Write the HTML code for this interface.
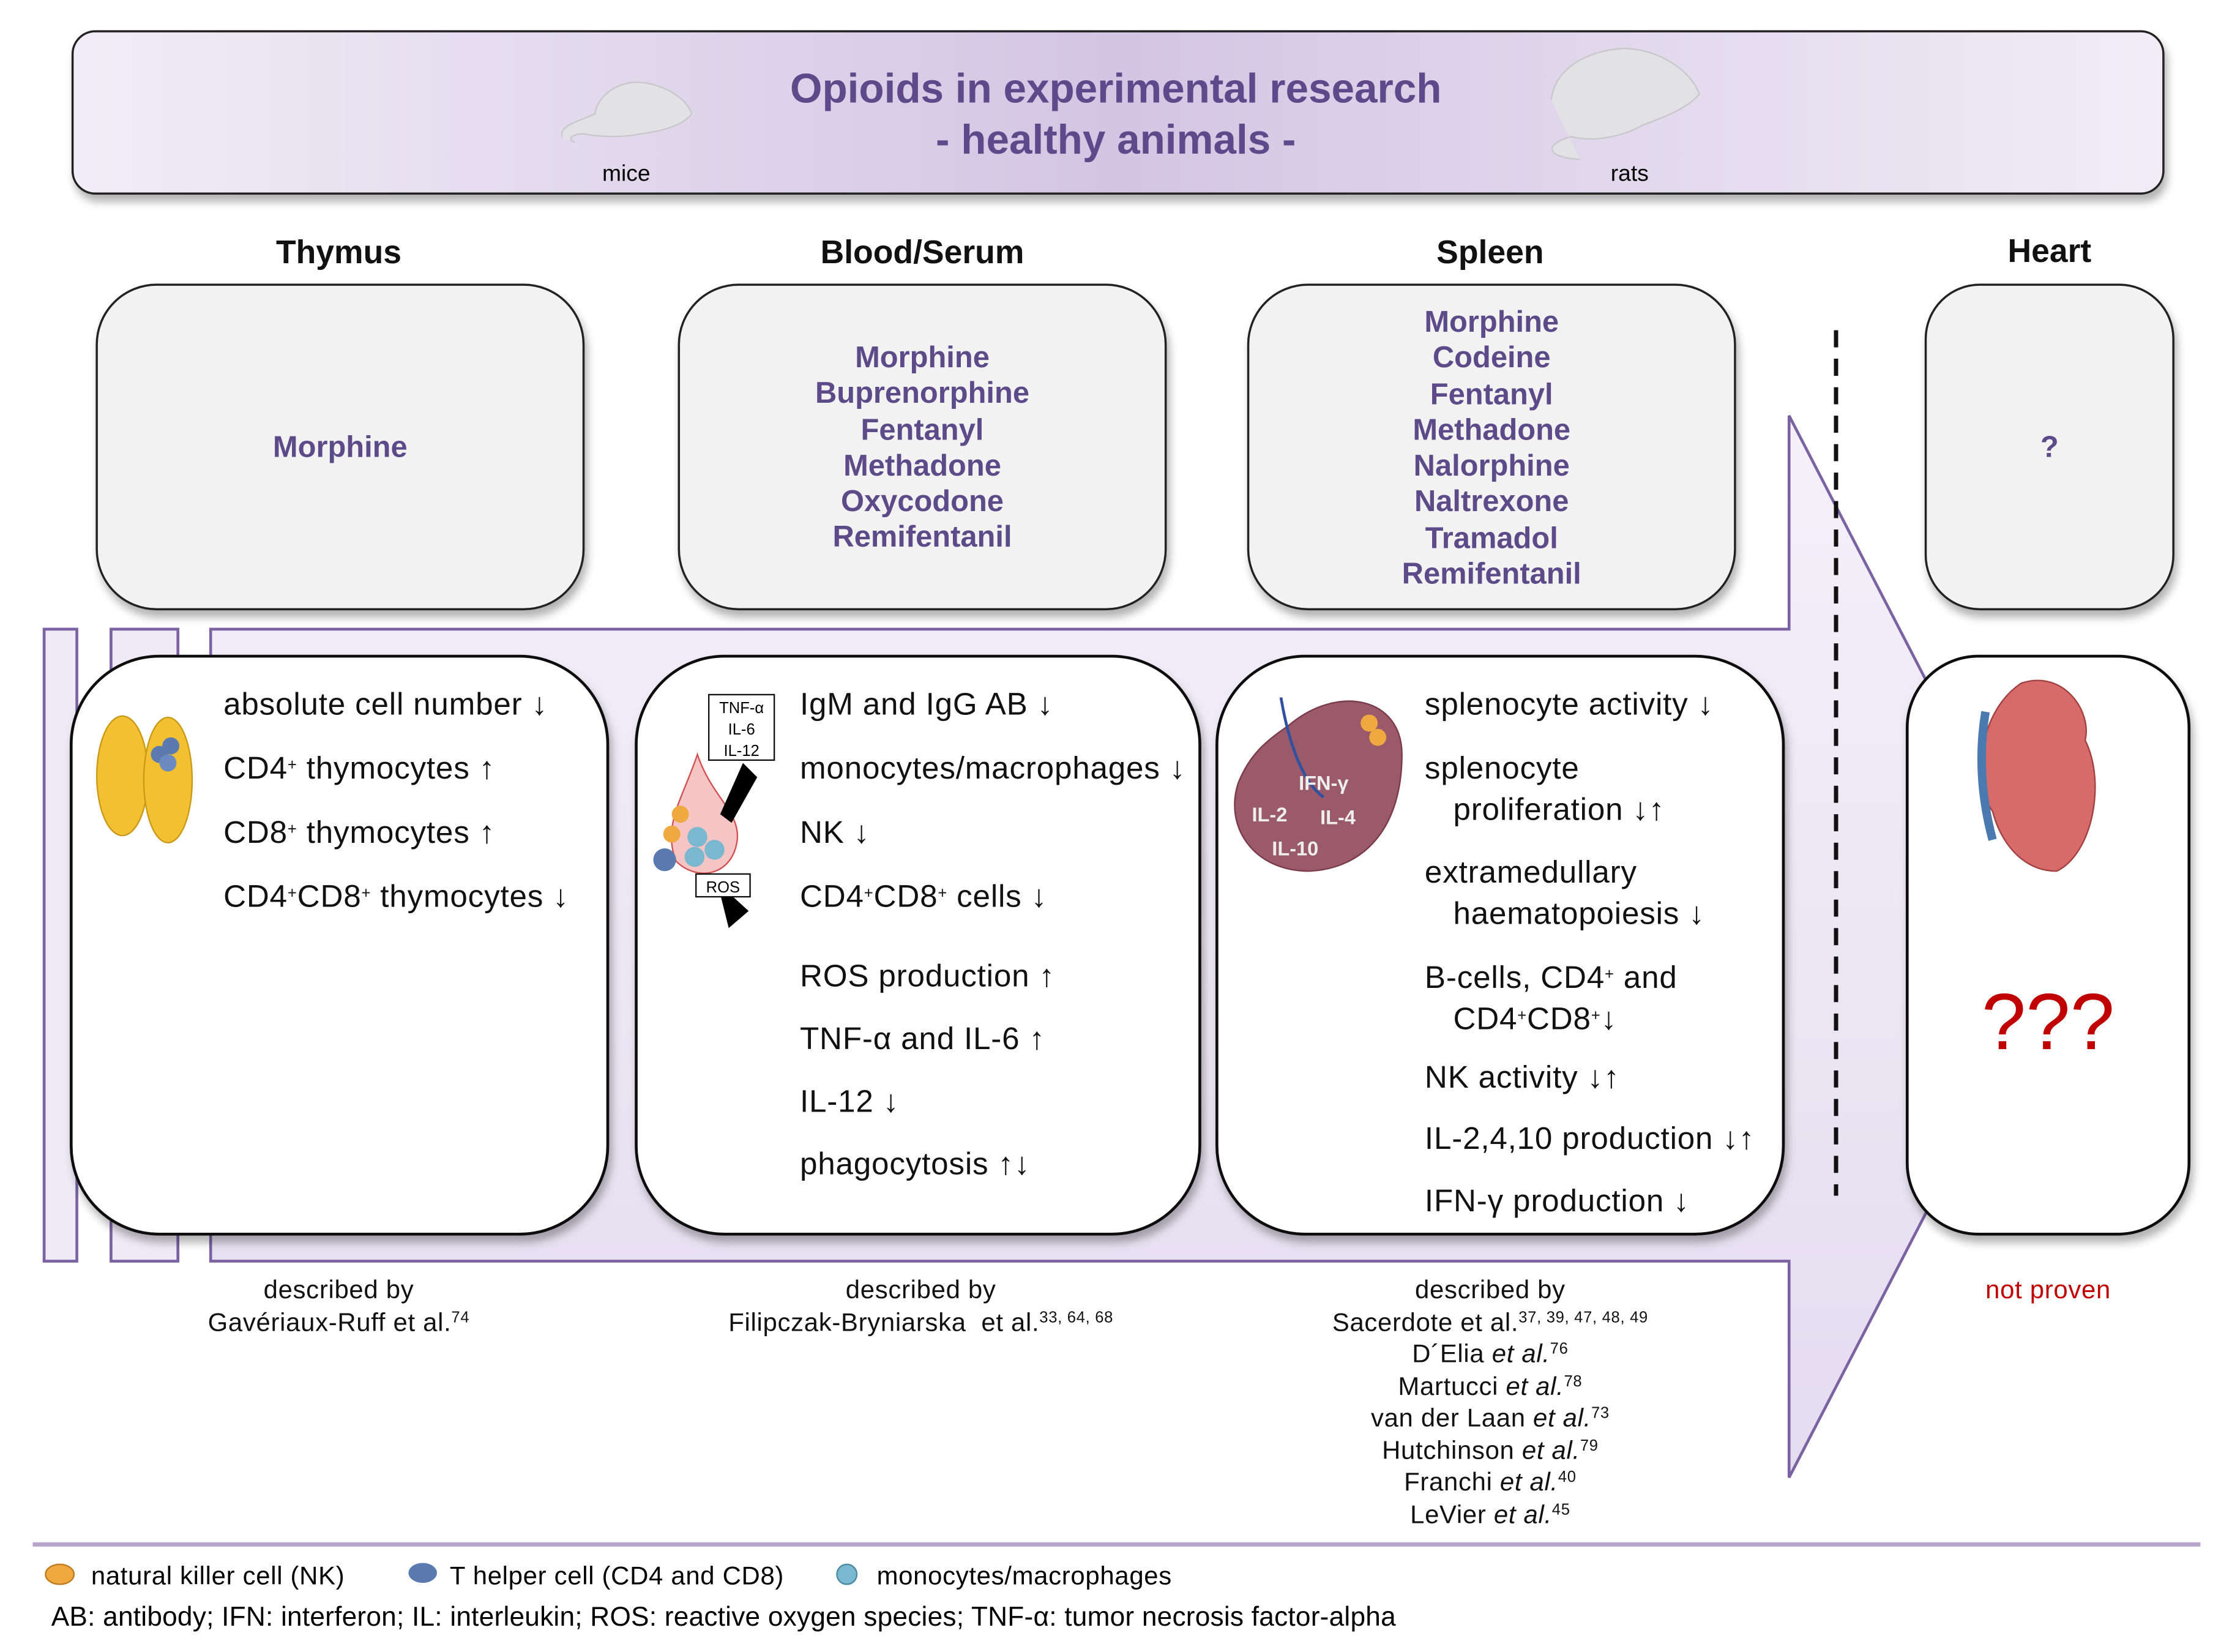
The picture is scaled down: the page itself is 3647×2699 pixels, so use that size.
<!DOCTYPE html>
<html><head><meta charset="utf-8">
<style>
html,body{margin:0;padding:0;background:#fff;}
#wrap{width:3647px;height:2699px;overflow:hidden;position:relative;}
#c{position:absolute;left:0;top:0;width:1570px;height:1162px;transform:scale(2.3256);transform-origin:0 0;font-family:"Liberation Sans",sans-serif;}
.t{position:absolute;white-space:nowrap;line-height:24px;}
.e{font-size:22px;letter-spacing:0.35px;color:#111;}
.h{font-size:23px;font-weight:bold;color:#111;text-align:center;width:300px;}
.d{font-size:21px;font-weight:bold;color:#5d4a89;text-align:center;line-height:25.3px;}
.r{font-size:18px;letter-spacing:0.3px;color:#111;text-align:center;line-height:22.5px;}
sup{font-size:11px;vertical-align:6px;line-height:0;}
i{font-style:italic;}
</style></head><body><div id="wrap"><div id="c">
<svg width="1570" height="1162" style="position:absolute;left:0;top:0">
<defs>
<linearGradient id="hg" x1="0" x2="1" y1="0" y2="0">
<stop offset="0" stop-color="#f1edf7"/><stop offset="0.5" stop-color="#d3c5e3"/><stop offset="1" stop-color="#f1edf7"/></linearGradient>
<linearGradient id="ag" x1="0" x2="0" y1="0" y2="1">
<stop offset="0" stop-color="#f4f1fa"/><stop offset="1" stop-color="#e4dcef"/></linearGradient>
<filter id="sh" x="-10%" y="-10%" width="120%" height="130%"><feDropShadow dx="2" dy="5" stdDeviation="3" flood-color="#000" flood-opacity="0.3"/></filter>
</defs>
<rect x="51" y="22" width="1469" height="114" rx="16" fill="url(#hg)" stroke="#222" stroke-width="1.5" filter="url(#sh)"/>
<path d="M395,96 C392,88 410,84 418,80 C420,66 436,56 452,58 C466,60 482,68 486,80 C480,88 466,92 450,94 C436,97 420,96 410,94 C402,94 398,98 404,100" fill="#e2e2e4" stroke="#c8c8cc"/>
<path d="M1090,70 C1092,50 1112,36 1140,34 C1166,34 1188,50 1194,66 C1186,76 1170,82 1154,88 C1140,96 1120,100 1104,96 C1088,100 1082,110 1110,112" fill="#e2e2e4" stroke="#c8c8cc"/>
<path d="M148,442 L1257,442 L1257,292 L1450,665 L1257,1038 L1257,886 L148,886 Z" fill="url(#ag)" stroke="#7a62a3" stroke-width="2"/>
<rect x="31" y="442" width="23" height="444" fill="#efebf6" stroke="#7a62a3" stroke-width="2"/>
<rect x="78" y="442" width="47" height="444" fill="#efebf6" stroke="#7a62a3" stroke-width="2"/>
<g fill="#f2f2f2" stroke="#222" stroke-width="1.5" filter="url(#sh)">
<rect x="68" y="200" width="342" height="228" rx="42"/>
<rect x="477" y="200" width="342" height="228" rx="42"/>
<rect x="877" y="200" width="342" height="228" rx="42"/>
<rect x="1353" y="200" width="174" height="228" rx="38"/>
</g>
<line x1="1290" y1="232" x2="1290" y2="840" stroke="#111" stroke-width="3" stroke-dasharray="12,8"/>
<g fill="#fff" stroke="#111" stroke-width="2" filter="url(#sh)">
<rect x="50" y="461" width="377" height="406" rx="62"/>
<rect x="447" y="461" width="396" height="406" rx="62"/>
<rect x="855" y="461" width="398" height="406" rx="62"/>
<rect x="1340" y="461" width="198" height="406" rx="50"/>
</g>
<ellipse cx="86" cy="545" rx="18" ry="42" fill="#f2c031" stroke="#c89a18"/>
<ellipse cx="118" cy="548" rx="17" ry="44" fill="#f2c031" stroke="#c89a18"/>
<circle cx="112" cy="530" r="6" fill="#5a7ab0"/><circle cx="120" cy="524" r="6" fill="#5a7ab0"/><circle cx="118" cy="536" r="6" fill="#6a8ac0"/>
<path d="M490,530 C480,560 465,580 475,605 C490,620 515,615 518,590 C520,570 500,560 490,530 Z" fill="#f5c4c4" stroke="#d05050"/>
<rect x="498" y="488" width="46" height="46" fill="#fff" stroke="#111"/>
<text x="521" y="501" font-size="11" text-anchor="middle" font-family="Liberation Sans">TNF-α</text>
<text x="521" y="516" font-size="11" text-anchor="middle" font-family="Liberation Sans">IL-6</text>
<text x="521" y="531" font-size="11" text-anchor="middle" font-family="Liberation Sans">IL-12</text>
<path d="M522,536 L532,546 L514,578 L506,572 Z" fill="#000"/>
<path d="M504,620 L526,640 L512,652 Z" fill="#000"/>
<rect x="489" y="614" width="38" height="16" fill="#fff" stroke="#111"/>
<text x="508" y="627" font-size="11" text-anchor="middle" font-family="Liberation Sans">ROS</text>
<circle cx="478" cy="572" r="6" fill="#f0a840"/><circle cx="472" cy="586" r="6" fill="#f0a840"/>
<circle cx="490" cy="588" r="7" fill="#7ab8d0"/><circle cx="502" cy="597" r="7" fill="#7ab8d0"/><circle cx="488" cy="602" r="7" fill="#7ab8d0"/>
<circle cx="467" cy="604" r="8" fill="#5a7ab0"/>
<path d="M905,510 C940,480 985,490 985,530 C985,580 960,610 920,612 C880,612 860,580 870,550 C878,530 890,520 905,510 Z" fill="#9a5a6a" stroke="#7a3a4a"/>
<path d="M900,490 C905,520 915,550 930,560" stroke="#3050a0" stroke-width="2" fill="none"/>
<circle cx="962" cy="508" r="6" fill="#f0a840"/><circle cx="968" cy="518" r="6" fill="#f0a840"/>
<text x="930" y="555" font-size="14" fill="#eee" text-anchor="middle" font-family="Liberation Sans" font-weight="bold">IFN-γ</text>
<text x="892" y="577" font-size="14" fill="#eee" text-anchor="middle" font-family="Liberation Sans" font-weight="bold">IL-2</text>
<text x="940" y="579" font-size="14" fill="#eee" text-anchor="middle" font-family="Liberation Sans" font-weight="bold">IL-4</text>
<text x="910" y="601" font-size="14" fill="#eee" text-anchor="middle" font-family="Liberation Sans" font-weight="bold">IL-10</text>
<path d="M1420,480 C1450,470 1470,500 1465,520 C1480,550 1470,600 1445,612 C1420,612 1405,590 1400,570 C1385,550 1390,500 1420,480 Z" fill="#d86a6a" stroke="#a04040"/>
<path d="M1395,500 C1390,530 1392,560 1400,590" stroke="#4a7ab0" stroke-width="6" fill="none"/>
<line x1="23" y1="1085" x2="1546" y2="1085" stroke="#b7a5cf" stroke-width="3"/>
<ellipse cx="42" cy="1106" rx="10" ry="7" fill="#f0a840" stroke="#c07a20"/>
<ellipse cx="297" cy="1105" rx="10" ry="7" fill="#5a7ab0"/>
<circle cx="595" cy="1106" r="7" fill="#7ab8d0" stroke="#4a8aa0"/>
</svg>

<div class="t" style="left:418px;top:111px;font-size:16px;width:44px;text-align:center">mice</div>
<div class="t" style="left:1123px;top:111px;font-size:16px;width:44px;text-align:center">rats</div>
<div class="t" style="left:434px;top:45px;width:700px;text-align:center;font-size:29px;font-weight:bold;color:#5e4a8a;line-height:36px">Opioids in experimental research<br>- healthy animals -</div>

<div class="t h" style="left:88px;top:165px">Thymus</div>
<div class="t h" style="left:498px;top:165px">Blood/Serum</div>
<div class="t h" style="left:897px;top:165px">Spleen</div>
<div class="t h" style="left:1290px;top:164px">Heart</div>

<div class="t d" style="left:68px;width:342px;top:302px">Morphine</div>
<div class="t d" style="left:477px;width:342px;top:239px">Morphine<br>Buprenorphine<br>Fentanyl<br>Methadone<br>Oxycodone<br>Remifentanil</div>
<div class="t d" style="left:877px;width:342px;top:214px">Morphine<br>Codeine<br>Fentanyl<br>Methadone<br>Nalorphine<br>Naltrexone<br>Tramadol<br>Remifentanil</div>
<div class="t d" style="left:1353px;width:174px;top:302px">?</div>

<div class="t e" style="left:157px;top:483px">absolute cell number ↓</div>
<div class="t e" style="left:157px;top:528px">CD4<sup>+</sup> thymocytes ↑</div>
<div class="t e" style="left:157px;top:573px">CD8<sup>+</sup> thymocytes ↑</div>
<div class="t e" style="left:157px;top:618px">CD4<sup>+</sup>CD8<sup>+</sup> thymocytes ↓</div>

<div class="t e" style="left:562px;top:483px">IgM and IgG AB ↓</div>
<div class="t e" style="left:562px;top:528px">monocytes/macrophages ↓</div>
<div class="t e" style="left:562px;top:573px">NK ↓</div>
<div class="t e" style="left:562px;top:618px">CD4<sup>+</sup>CD8<sup>+</sup> cells ↓</div>
<div class="t e" style="left:562px;top:674px">ROS production ↑</div>
<div class="t e" style="left:562px;top:718px">TNF-α and IL-6 ↑</div>
<div class="t e" style="left:562px;top:762px">IL-12 ↓</div>
<div class="t e" style="left:562px;top:806px">phagocytosis ↑↓</div>

<div class="t e" style="left:1001px;top:483px">splenocyte activity ↓</div>
<div class="t e" style="left:1001px;top:528px">splenocyte</div>
<div class="t e" style="left:1021px;top:557px">proliferation ↓↑</div>
<div class="t e" style="left:1001px;top:601px">extramedullary</div>
<div class="t e" style="left:1021px;top:630px">haematopoiesis ↓</div>
<div class="t e" style="left:1001px;top:675px">B-cells, CD4<sup>+</sup> and</div>
<div class="t e" style="left:1021px;top:704px">CD4<sup>+</sup>CD8<sup>+</sup>↓</div>
<div class="t e" style="left:1001px;top:745px">NK activity ↓↑</div>
<div class="t e" style="left:1001px;top:788px">IL-2,4,10 production ↓↑</div>
<div class="t e" style="left:1001px;top:832px">IFN-γ production ↓</div>

<div class="t" style="left:1340px;width:198px;text-align:center;top:688px;font-size:56px;line-height:60px;color:#c00000">???</div>

<div class="t r" style="left:88px;width:300px;top:895px">described by<br>Gavériaux-Ruff et al.<sup>74</sup></div>
<div class="t r" style="left:447px;width:400px;top:895px">described by<br>Filipczak-Bryniarska&nbsp; et al.<sup>33, 64, 68</sup></div>
<div class="t r" style="left:897px;width:300px;top:895px">described by<br>Sacerdote et al.<sup>37, 39, 47, 48, 49</sup><br>D´Elia <i>et al.</i><sup>76</sup><br>Martucci <i>et al.</i><sup>78</sup><br>van der Laan <i>et al.</i><sup>73</sup><br>Hutchinson <i>et al.</i><sup>79</sup><br>Franchi <i>et al.</i><sup>40</sup><br>LeVier <i>et al.</i><sup>45</sup></div>
<div class="t r" style="left:1340px;width:198px;top:895px;color:#c00000">not proven</div>

<div class="t" style="left:64px;top:1095px;font-size:18px;letter-spacing:0.3px">natural killer cell (NK)</div>
<div class="t" style="left:316px;top:1095px;font-size:18px;letter-spacing:0.3px">T helper cell (CD4 and CD8)</div>
<div class="t" style="left:616px;top:1095px;font-size:18px;letter-spacing:0.3px">monocytes/macrophages</div>
<div class="t" style="left:36px;top:1125px;font-size:19px;letter-spacing:0.1px">AB: antibody; IFN: interferon; IL: interleukin; ROS: reactive oxygen species; TNF-α: tumor necrosis factor-alpha</div>
</div></div></body></html>
